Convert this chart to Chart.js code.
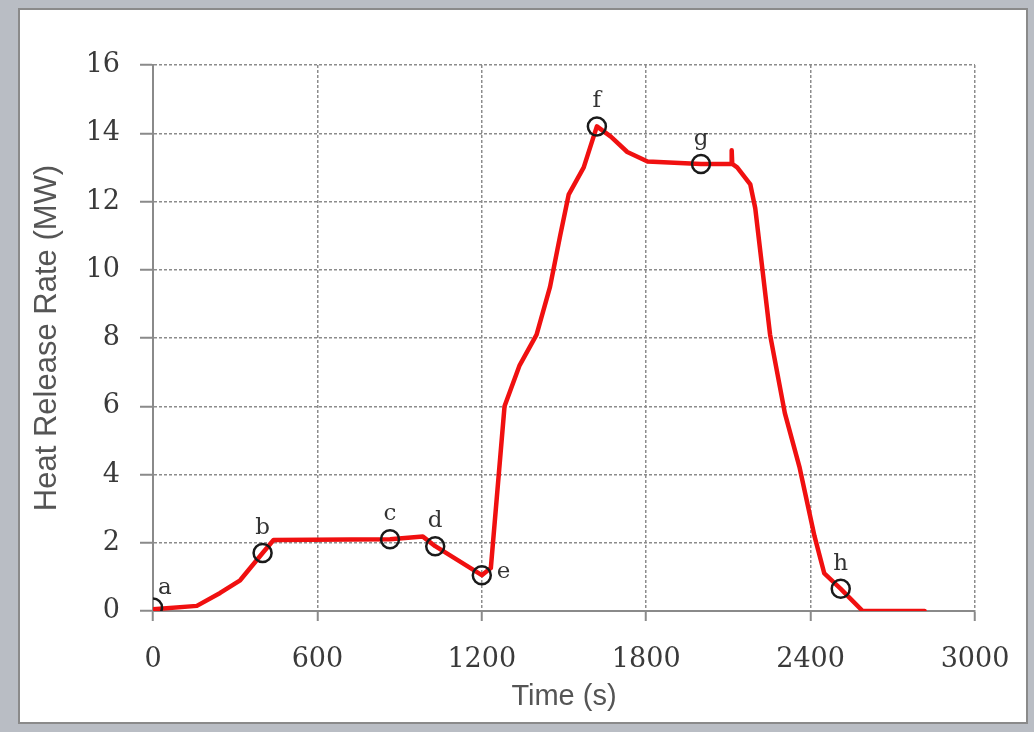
<!DOCTYPE html>
<html>
<head>
<meta charset="utf-8">
<title>Heat Release Rate</title>
<script src="https://cdn.jsdelivr.net/npm/chart.js"></script>
<style>
    html, body { margin: 0; padding: 0; }
    body { width: 1034px; height: 732px; background: #b9bdc4; position: relative; overflow: hidden; }
    #panel { position: absolute; left: 18px; top: 8px; width: 1010px; height: 716px; background: #fff; border: 2px solid #8a8a8a; box-sizing: border-box; }
    #wrap { position: absolute; left: 0; top: 0; width: 1034px; height: 732px; }
</style>
</head>
<body>
<div id="panel"></div>
<div id="wrap"><canvas id="hrrChart" width="1034" height="732"></canvas></div>
<script>
// curva medida (tempo em s, HRR em MW)
const timeS = [0, 160, 245, 318, 400, 440, 865, 985, 1030, 1200, 1233, 1283, 1338, 1400, 1449, 1486, 1517, 1572, 1620, 1671, 1731, 1805, 2000, 2110, 2112, 2114, 2132, 2180, 2198, 2252, 2306, 2360, 2414, 2450, 2510, 2590, 2816];
const hrrMW = [0.05, 0.15, 0.53, 0.9, 1.7, 2.08, 2.1, 2.18, 1.9, 1.05, 1.26, 6.0, 7.2, 8.1, 9.5, 11.0, 12.2, 13.0, 14.2, 13.9, 13.45, 13.17, 13.1, 13.1, 13.5, 13.1, 13.0, 12.5, 11.8, 8.1, 5.8, 4.2, 2.2, 1.1, 0.65, 0, 0];

// pontos marcados a..h
const markerNames = ['a', 'b', 'c', 'd', 'e', 'f', 'g', 'h'];
const markerTime = [0, 400, 865, 1030, 1200, 1620, 2000, 2510];
const markerHRR = [0.1, 1.7, 2.1, 1.9, 1.05, 14.2, 13.1, 0.65];
const markerSide = ['ne', 'n', 'n', 'n', 'e', 'n', 'n', 'n'];

const xTicks = [0, 600, 1200, 1800, 2400, 3000];
const yTicks = [0, 2, 4, 6, 8, 10, 12, 14, 16];

const tickFont = { family: 'DejaVu Serif', size: 27 };
const gridColor = '#8c8c8c';

const markerLabels = {
    id: 'markerLabels',
    afterDatasetsDraw(chart) {
        const ctx = chart.ctx;
        const meta = chart.getDatasetMeta(1);
        ctx.save();
        ctx.font = '23px "DejaVu Serif"';
        ctx.fillStyle = '#333';
        meta.data.forEach((pt, i) => {
            const side = markerSide[i];
            if (side === 'n') {
                ctx.textAlign = 'center';
                ctx.textBaseline = 'alphabetic';
                ctx.fillText(markerNames[i], pt.x, pt.y - 19);
            } else if (side === 'ne') {
                ctx.textAlign = 'left';
                ctx.textBaseline = 'alphabetic';
                ctx.fillText(markerNames[i], pt.x + 5, pt.y - 14);
            } else {
                ctx.textAlign = 'left';
                ctx.textBaseline = 'middle';
                ctx.fillText(markerNames[i], pt.x + 15, pt.y - 3);
            }
        });
        ctx.restore();
    }
};

new Chart(document.getElementById('hrrChart').getContext('2d'), {
    type: 'line',
    data: {
        datasets: [
            {
                label: 'HRR',
                data: timeS.map((t, i) => ({ x: t, y: hrrMW[i] })),
                borderColor: '#f01010',
                borderWidth: 4.5,
                borderJoinStyle: 'round',
                borderCapStyle: 'round',
                pointRadius: 0,
                tension: 0,
                fill: false,
                order: 2
            },
            {
                label: 'marks',
                data: markerTime.map((t, i) => ({ x: t, y: markerHRR[i] })),
                showLine: false,
                pointRadius: 9,
                pointBorderWidth: 2.5,
                pointBorderColor: '#1a1a1a',
                pointBackgroundColor: 'rgba(0,0,0,0)',
                order: 1
            }
        ]
    },
    options: {
        responsive: false,
        animation: false,
        layout: { padding: { left: 0, right: 59, top: 65, bottom: 0 } },
        plugins: {
            legend: { display: false },
            tooltip: { enabled: false }
        },
        scales: {
            x: {
                type: 'linear',
                min: 0,
                max: 3000,
                afterBuildTicks: s => { s.ticks = xTicks.map(v => ({ value: v })); },
                afterFit: s => { s.height = 121; },
                grid: {
                    color: gridColor,
                    lineWidth: 1.5,
                    tickLength: 10,
                    tickColor: '#8a8a8a',
                    tickWidth: 2,
                    tickBorderDash: [1, 0]
                },
                border: { display: true, color: '#8a8a8a', width: 2, dash: [3, 2] },
                ticks: {
                    color: '#3a3a3a',
                    font: tickFont,
                    padding: 23,
                    maxRotation: 0,
                    callback: v => String(v)
                },
                title: {
                    display: true,
                    text: 'Time (s)',
                    color: '#555',
                    font: { family: 'Liberation Sans', size: 29 },
                    padding: { top: 0, bottom: 18 }
                }
            },
            y: {
                min: 0,
                max: 16,
                afterBuildTicks: s => { s.ticks = yTicks.map(v => ({ value: v })); },
                afterFit: s => { s.width = 153; },
                grid: {
                    color: gridColor,
                    lineWidth: 1.5,
                    tickLength: 13,
                    tickColor: '#8a8a8a',
                    tickWidth: 2,
                    tickBorderDash: [1, 0]
                },
                border: { display: true, color: '#8a8a8a', width: 2, dash: [3, 2] },
                ticks: { color: '#3a3a3a', font: tickFont, padding: 20, callback: v => String(v) },
                title: {
                    display: true,
                    text: 'Heat Release Rate (MW)',
                    color: '#555',
                    font: { family: 'Liberation Sans', size: 31 },
                    padding: { top: 29, bottom: 0 }
                }
            }
        }
    },
    plugins: [markerLabels]
});
</script>
</body>
</html>
